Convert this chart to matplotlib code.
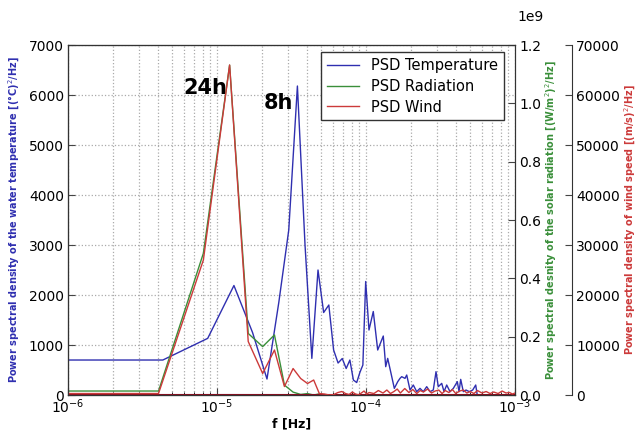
import matplotlib
matplotlib.use("Agg")
import matplotlib.pyplot as plt
from matplotlib.ticker import FuncFormatter
import numpy as np

# frequencies in micro-Hz
temp_f = [0.5, 4.33, 8.66, 12.99, 17.32, 21.65, 25.98, 30.31, 34.64, 38.97, 43.3,
          47.63, 51.96, 56.29, 60.62, 64.95, 69.28, 73.61, 77.94, 82.27, 86.6,
          90.93, 95.26, 99.5, 104.7, 111.9, 119.8, 130.6, 135.6, 139.8, 147.2,
          154.9, 163.3, 169.1, 173.6, 182.7, 187.6, 197.4, 207.7, 218.9, 230.3,
          242.4, 255.5, 268.8, 282.9, 295.0, 305.6, 322.2, 333.9, 348.0, 366.3,
          385.5, 410.1, 421.0, 432.1, 449.8, 469.0, 493.6, 520.0, 544.8, 555.9]
temp_psd = [700, 700, 1133, 2190, 1250, 320, 1850, 3300, 6180, 3000, 733,
            2500, 1650, 1800, 900, 640, 730, 530, 700, 300, 250,
            450, 600, 2270, 1300, 1670, 900, 1180, 567, 733, 433,
            133, 267, 333, 367, 333, 400, 100, 200, 67, 133,
            67, 167, 67, 100, 467, 167, 233, 67, 200, 67,
            133, 267, 67, 313, 67, 100, 67, 100, 200, 30]

rad_f = [0.5, 4.05, 8.1, 12.15, 16.2, 20.25, 24.3, 28.35, 32.4, 36.45, 40.5,
         44.55, 48.6, 52.65, 1000]
rad_psd = [1.37e7, 1.37e7, 4.86e8, 1.131e9, 2.11e8, 1.66e8, 2.06e8, 3.4e7,
           1.0e7, 2.0e6, 5.0e6, 0, 4.0e6, 0, 0]

wind_f = [0.5, 4.05, 8.1, 12.15, 16.2, 20.25, 24.3, 28.35, 32.4, 36.45, 40.5,
          44.55, 48.6, 52.65, 56.7, 60.75, 64.8, 68.85, 72.9, 76.95, 81, 85,
          89, 93, 97, 101, 105, 113, 121, 130, 138, 146, 154, 162, 170, 182,
          194, 206, 219, 231, 243, 259, 275, 291, 308, 324, 340, 360, 380,
          400, 425, 450, 475, 500, 530, 560, 600, 640, 680, 720, 770, 820,
          870, 920, 960, 1000]
wind_psd = [300, 300, 27000, 66000, 10700, 4300, 9000, 1700, 5300, 3300, 2300,
            3000, 300, 200, 0, 100, 500, 700, 300, 100, 600, 200,
            50, 400, 800, 200, 500, 300, 900, 400, 1000, 300, 700, 1200, 400, 1300,
            500, 1100, 300, 900, 600, 1200, 400, 800, 1000, 300, 900, 500, 1100,
            300, 800, 1000, 400, 700, 300, 900, 400, 700, 300, 600, 300, 800,
            400, 500, 200, 400]

C_T = "#2f2fb0"
C_R = "#3a8f3a"
C_W = "#cc3a3a"

temp_hz = np.array(temp_f) * 1e-6
rad_hz = np.array(rad_f) * 1e-6
wind_hz = np.array(wind_f) * 1e-6

fig = plt.figure(figsize=(6.44, 4.32), dpi=100)
ax1 = fig.add_axes([0.1056, 0.0856, 0.6941, 0.8102])
ax2 = ax1.twinx()
ax3 = ax1.twinx()
ax3.spines["right"].set_position(("axes", 1.1275))

l1, = ax1.plot(temp_hz, temp_psd, color=C_T, lw=1.0, label="PSD Temperature")
l2, = ax2.plot(rad_hz, rad_psd, color=C_R, lw=1.0, label="PSD Radiation")
# temperature and wind on the 1e9 scale sit flat on the baseline
ax2.plot(temp_hz, temp_psd, color=C_T, lw=1.5)
ax2.plot(wind_hz, wind_psd, color="#8a1020", lw=1.5)
l3, = ax3.plot(wind_hz, wind_psd, color=C_W, lw=1.0, label="PSD Wind")

ax1.set_xscale("log")
ax1.set_xlim(1e-6, 1e-3)
ax1.set_ylim(0, 7000)
ax2.set_ylim(0, 1.2e9)
ax3.set_ylim(0, 70000)
ax1.set_yticks(np.arange(0, 7001, 1000))
ax2.set_yticks(np.arange(0, 1.21e9, 0.2e9))
ax2.yaxis.set_major_formatter(FuncFormatter(lambda v, p: f"{v / 1e9:.1f}"))
ax3.set_yticks(np.arange(0, 70001, 10000))

ax1.grid(True, which="both", axis="x", linestyle=":", color="#aaaaaa", lw=0.9)
ax1.grid(True, which="major", axis="y", linestyle=":", color="#aaaaaa", lw=0.9)

for ax in (ax1, ax2, ax3):
    ax.tick_params(direction="in", labelsize=10, length=5, color="#444444", pad=3)
    ax.tick_params(which="minor", direction="in", length=2.5)
    for s in ax.spines.values():
        s.set_color("#333333")
ax1.tick_params(axis="x", pad=2)

ax2.text(1.005, 1.06, "1e9", transform=ax1.transAxes, fontsize=10,
         ha="left", va="bottom")

ax1.set_xlabel("f [Hz]", fontsize=9, fontweight="bold", labelpad=1)
ax1.set_ylabel("Power spectral density of the water temperature [(°C)$^2$/Hz]",
               fontsize=7, fontweight="bold", color=C_T, labelpad=5)
ax2.set_ylabel("Power spectral desnity of the solar radiation [(W/m$^2$)$^2$/Hz]",
               fontsize=7, fontweight="bold", color=C_R, labelpad=2)
ax3.set_ylabel("Power spectral density of wind speed [(m/s)$^2$/Hz]",
               fontsize=7, fontweight="bold", color=C_W, labelpad=2)

ax1.text(8.3e-6, 6140, "24h", fontsize=15, fontweight="bold", ha="center", va="center")
ax1.text(2.57e-5, 5840, "8h", fontsize=15, fontweight="bold", ha="center", va="center")

leg = ax3.legend(handles=[l1, l2, l3], loc="upper right", fontsize=10.5,
                 fancybox=False, framealpha=1, edgecolor="#333333",
                 bbox_to_anchor=(0.975, 0.98), borderaxespad=0,
                 handlelength=2.2, labelspacing=0.4)

fig.savefig("out.png", dpi=100)
